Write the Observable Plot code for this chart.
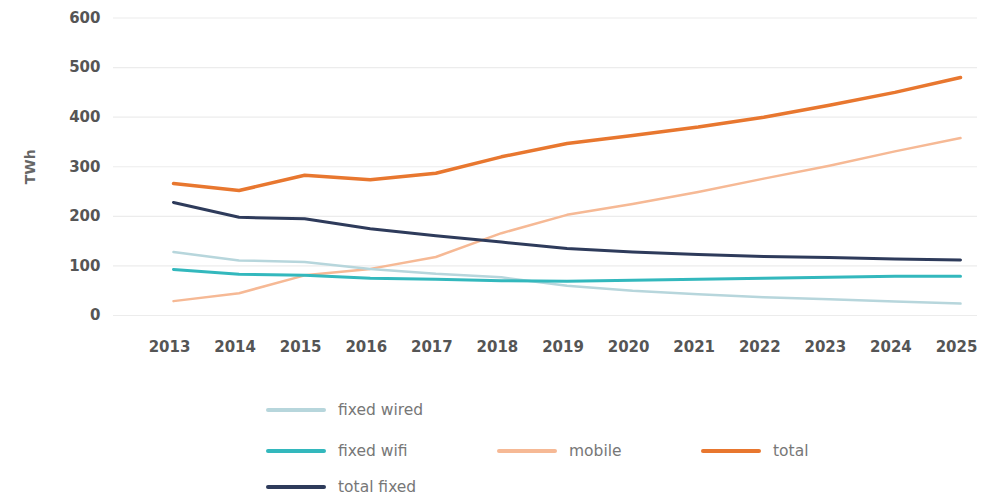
<!DOCTYPE html>
<html>
<head>
<meta charset="utf-8">
<script src="https://cdn.jsdelivr.net/npm/d3@7"></script>
<script src="https://cdn.jsdelivr.net/npm/@observablehq/plot@0.6"></script>
<style>
  html, body { margin: 0; padding: 0; background: #fff; }
  #wrap { width: 999px; height: 495px; position: relative; overflow: hidden; }
  #legend { position: relative; width: 999px; height: 125px; font-family: "DejaVu Sans", sans-serif; font-size: 15.5px; color: #777; }
  .item { position: absolute; display: flex; align-items: center; height: 20px; white-space: nowrap; }
  .sw { width: 60px; height: 4px; border-radius: 2px; margin-right: 12px; }
</style>
</head>
<body>
<div id="wrap">
  <div id="chart"></div>
  <div id="legend"></div>
</div>
<script>
const years = [2013, 2014, 2015, 2016, 2017, 2018, 2019, 2020, 2021, 2022, 2023, 2024, 2025];
const fixedWired = [128, 111, 108, 94, 84, 77, 60, 50, 43, 37, 33, 28, 24];
const fixedWifi  = [93, 83, 81, 75, 73, 70, 69, 71, 73, 75, 77, 79, 79];
const mobile     = [29, 45, 81, 94, 118, 166, 203, 225, 249, 276, 302, 331, 358];
const total      = [266, 252, 283, 274, 287, 320, 347, 363, 380, 400, 424, 450, 480];
const totalFixed = [228, 198, 195, 175, 161, 148, 135, 128, 123, 119, 117, 114, 112];
const yTicks = [0, 100, 200, 300, 400, 500, 600];

const seriesNames = ["fixed wired", "fixed wifi", "mobile", "total", "total fixed"];
const seriesValues = [fixedWired, fixedWifi, mobile, total, totalFixed];
const seriesColors = ["#b7d6dc", "#33b8bd", "#f6b995", "#e8772f", "#2e3b5b"];
const seriesWidths = [2.5, 3, 2.5, 3.5, 3];

const rows = [];
seriesNames.forEach((name, i) => {
  years.forEach((yr, j) => rows.push({series: name, year: yr, value: seriesValues[i][j]}));
});

const drawOrder = ["mobile", "fixed wired", "fixed wifi", "total fixed", "total"];

const chart = Plot.plot({
  width: 999,
  height: 370,
  marginLeft: 113,
  marginRight: 22,
  marginTop: 17.5,
  marginBottom: 55,
  style: {fontFamily: "DejaVu Sans, sans-serif", background: "#fff"},
  x: {type: "linear", domain: [2013, 2025], insetLeft: 60, insetRight: 17},
  y: {domain: [0, 600]},
  marks: [
    Plot.gridY(yTicks, {stroke: "#ececec", strokeOpacity: 1, strokeWidth: 1.2}),
    Plot.axisX(years, {tickSize: 0, tickPadding: 26, tickFormat: d => String(d), fontSize: 15, fontWeight: "bold", fill: "#555", dx: -4, label: null}),
    Plot.axisY(yTicks, {tickSize: 0, tickPadding: 13, fontSize: 15, fontWeight: "bold", fill: "#555", label: "TWh", labelAnchor: "center", labelArrow: "none", labelOffset: 88}),
    ...drawOrder.map(name => {
      const i = seriesNames.indexOf(name);
      return Plot.line(rows.filter(r => r.series === name), {
        x: "year", y: "value", stroke: seriesColors[i], strokeWidth: seriesWidths[i], curve: "linear"
      });
    })
  ]
});
chart.querySelectorAll("[aria-label='y-axis label'] text").forEach(t => {
  t.setAttribute("font-size", "14"); t.setAttribute("font-weight", "bold"); t.setAttribute("fill", "#666");
});
document.getElementById("chart").appendChild(chart);

const legendPos = {
  "fixed wired": [266, 30],
  "fixed wifi": [266, 71],
  "mobile": [497, 71],
  "total": [701, 71],
  "total fixed": [266, 107]
};
const legend = document.getElementById("legend");
seriesNames.forEach((name, i) => {
  const it = document.createElement("div");
  it.className = "item";
  it.style.left = legendPos[name][0] + "px";
  it.style.top = legendPos[name][1] + "px";
  const sw = document.createElement("div");
  sw.className = "sw";
  sw.style.background = seriesColors[i];
  const tx = document.createElement("span");
  tx.textContent = name;
  it.appendChild(sw); it.appendChild(tx);
  legend.appendChild(it);
});
</script>
</body>
</html>
